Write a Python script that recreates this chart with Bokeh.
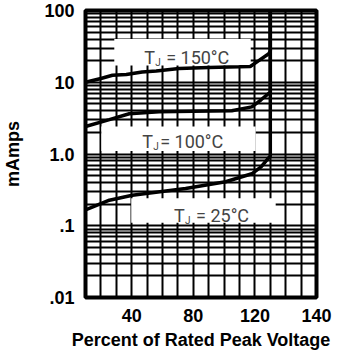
from bokeh.plotting import figure
from bokeh.models import FixedTicker, Label
from bokeh.embed import file_html
from bokeh.resources import INLINE

# ---- data ----
x_150 = [10, 20, 27.5, 36.5, 46.8, 55.9, 70.8, 90, 110, 117, 122.5, 129, 130, 130]
y_150 = [10.0, 11.3, 12.5, 12.8, 13.9, 14.4, 15.5, 16.0, 16.4, 16.6, 20.0, 25.0, 27.0, 100]
x_100 = [10, 25.5, 38.4, 57.8, 80, 105, 118, 124, 130, 130]
y_100 = [2.42, 3.02, 3.64, 3.88, 3.95, 4.0, 4.54, 5.7, 7.3, 100]
x_25 = [10, 25.5, 40.4, 75, 101, 118, 124, 130, 130]
y_25 = [0.166, 0.227, 0.266, 0.33, 0.41, 0.53, 0.66, 0.94, 100]

x_ticks = [40, 80, 120, 160]
x_tick_labels = ["40", "80", "120", "140"]
y_ticks = [0.01, 0.1, 1, 10, 100]
y_tick_labels = [".01", ".1", "1.0", "10", "100"]
x_grid = [20, 30, 40, 50, 60, 70, 80, 90, 100, 110, 120, 130, 140, 150]
y_minor = [k * d for d in [0.01, 0.1, 1, 10] for k in range(2, 10)]

temps = ["150°C", "100°C", "25°C"]
seps = ["= ", "= ", "= "]
sep_offsets = [22, 18, 22]

# annotation boxes (data coords)
box_left = [28.7, 20.3, 39.7]
box_right = [117.3, 120.5, 133.5]
box_bottom = [17.1, 1.10, 0.110]
box_top = [40.1, 2.42, 0.242]
lab_x = [48.1, 46.8, 67.5]
lab_y = [22.0, 1.506, 0.141]

p = figure(frame_width=231, frame_height=287, x_range=(10, 160), y_range=(0.01, 100),
           y_axis_type="log", output_backend="svg", toolbar_location=None,
           min_border_left=78, min_border_right=21, min_border_top=10,
           min_border_bottom=53)
p.background_fill_color = "white"
p.border_fill_color = "white"
p.outline_line_color = "black"
p.outline_line_width = 4

# grids
p.xgrid.ticker = FixedTicker(ticks=x_grid)
p.xgrid.grid_line_color = "black"
p.xgrid.grid_line_width = 2
p.xgrid.grid_line_alpha = 1
p.ygrid.ticker = FixedTicker(ticks=y_ticks, minor_ticks=y_minor)
p.ygrid.grid_line_color = "black"
p.ygrid.grid_line_width = 2
p.ygrid.minor_grid_line_color = "black"
p.ygrid.minor_grid_line_width = 2

# axes
font = "Liberation Sans"
p.xaxis.ticker = FixedTicker(ticks=x_ticks)
p.xaxis.major_label_overrides = dict(zip(x_ticks, x_tick_labels))
p.yaxis.ticker = FixedTicker(ticks=y_ticks, minor_ticks=[])
p.yaxis.major_label_overrides = dict(zip(y_ticks, y_tick_labels))
for ax in (p.xaxis[0], p.yaxis[0]):
    ax.axis_line_color = None
    ax.major_tick_line_color = None
    ax.minor_tick_line_color = None
    ax.major_label_text_font = font
    ax.major_label_text_font_style = "bold"
    ax.major_label_text_font_size = "18px"
    ax.major_label_text_color = "black"
    ax.axis_label_text_font = font
    ax.axis_label_text_font_style = "bold"
    ax.axis_label_text_color = "black"
p.xaxis.major_label_standoff = 5
p.yaxis.major_label_standoff = 5
p.xaxis.axis_label = "Percent of Rated Peak Voltage"
p.xaxis.axis_label_text_font_size = "18px"
p.xaxis.axis_label_standoff = 5
p.yaxis.axis_label = "mAmps"
p.yaxis.axis_label_text_font_size = "18px"
p.yaxis.axis_label_standoff = 18

# white label boxes
p.quad(left=box_left, right=box_right, bottom=box_bottom, top=box_top,
       fill_color="white", line_color=None)

# curves
for xs, ys in ((x_150, y_150), (x_100, y_100), (x_25, y_25)):
    p.line(xs, ys, line_color="black", line_width=3.5)

lfont = "Roboto"
for i in range(3):
    p.add_layout(Label(x=lab_x[i], y=lab_y[i], text="T", text_font=lfont,
                       text_font_size="18px", text_baseline="alphabetic"))
    p.add_layout(Label(x=lab_x[i], y=lab_y[i], x_offset=11, y_offset=-5, text="J",
                       text_font=lfont, text_font_size="10px",
                       text_baseline="alphabetic"))
    p.add_layout(Label(x=lab_x[i], y=lab_y[i], x_offset=sep_offsets[i],
                       text=seps[i] + temps[i],
                       text_font=lfont, text_font_size="18px",
                       text_baseline="alphabetic"))

open("out.html", "w").write(file_html(p, INLINE))
